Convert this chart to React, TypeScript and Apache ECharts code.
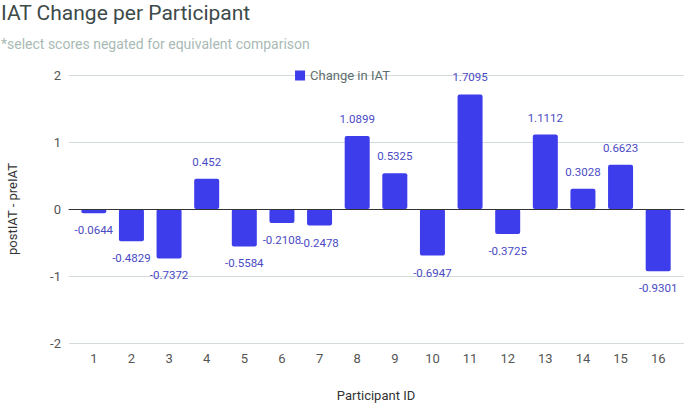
import React, { useEffect, useRef } from "react";
import * as echarts from "echarts";

const participants = ["1","2","3","4","5","6","7","8","9","10","11","12","13","14","15","16"];
const changeInIAT = [-0.0644,-0.4829,-0.7372,0.452,-0.5584,-0.2108,-0.2478,1.0899,0.5325,-0.6947,1.7095,-0.3725,1.1112,0.3028,0.6623,-0.9301];
const titleText = "IAT Change per Participant";
const subtitleText = "*select scores negated for equivalent comparison";
const seriesName = "Change in IAT";

export default function App() {
  const ref = useRef<HTMLDivElement>(null);
  useEffect(() => {
    const chart = echarts.init(ref.current!, null, { renderer: "svg" });
    const font = "Roboto, 'Noto Sans', sans-serif";
    chart.setOption({
      animation: false,
      textStyle: { fontFamily: font },
      title: {
        text: titleText,
        subtext: subtitleText,
        left: 0,
        top: 2,
        padding: [0, 0, 0, 1],
        itemGap: 14,
        textStyle: { fontSize: 21, fontWeight: "normal", color: "#3d4a4a", fontFamily: font },
        subtextStyle: { fontSize: 14, color: "#a9bab5", fontFamily: font },
      },
      legend: {
        data: [seriesName],
        top: 64,
        left: "center",
        itemWidth: 10,
        itemHeight: 10,
        itemGap: 5,
        icon: "rect",
        textStyle: { fontSize: 13, color: "#5f6f6f", fontFamily: font },
      },
      grid: [
        { left: 75, right: 8, top: 75, bottom: 62, outerBoundsMode: "none", containLabel: false },
        { left: 69, right: 1, top: 75, bottom: 62, outerBoundsMode: "none", containLabel: false },
      ],
      xAxis: [
        {
          type: "category",
          gridIndex: 0,
          data: participants,
          name: "Participant ID",
          nameLocation: "middle",
          nameGap: 46,
          nameTextStyle: { fontSize: 13, color: "#333", fontFamily: font },
          axisLine: { show: false },
          axisTick: { show: false },
          axisLabel: { fontSize: 13, color: "#555", margin: 9, fontFamily: font },
        },
        {
          type: "value",
          gridIndex: 1,
          min: 0,
          max: 1,
          z: 10,
          axisLine: { show: true, onZero: true, lineStyle: { color: "#333", width: 1 } },
          axisTick: { show: false },
          axisLabel: { show: false },
          splitLine: { show: false },
        },
      ],
      yAxis: [
        {
          type: "value",
          gridIndex: 0,
          min: -2,
          max: 2,
          interval: 1,
          axisLine: { show: false },
          axisTick: { show: false },
          axisLabel: { show: false },
          splitLine: { show: false },
        },
        {
          type: "value",
          gridIndex: 1,
          min: -2,
          max: 2,
          interval: 1,
          name: "postIAT - preIAT",
          nameLocation: "middle",
          nameGap: 50,
          nameTextStyle: { fontSize: 13, color: "#333", fontFamily: font },
          axisLine: { show: false },
          axisTick: { show: false },
          axisLabel: { fontSize: 13, color: "#555", margin: 8, fontFamily: font },
          splitLine: { lineStyle: { color: "#d3dcdb", width: 1 } },
        },
      ],
      series: [
        {
          name: seriesName,
          type: "bar",
          xAxisIndex: 0,
          yAxisIndex: 0,
          z: 3,
          data: changeInIAT.map((v) => ({
            value: v,
            label: { position: v >= 0 ? "top" : "bottom" },
          })),
          barWidth: 25,
          itemStyle: { color: "#3d3deb", borderRadius: 2 },
          label: {
            show: true,
            fontSize: 11.5,
            color: "#4a4ac4",
            distance: 11,
            fontFamily: font,
          },
        },
      ],
    });
    return () => chart.dispose();
  }, []);
  return (
    <div
      ref={ref}
      style={{ position: "absolute", left: 0, top: 0, width: 685, height: 405 }}
    />
  );
}
